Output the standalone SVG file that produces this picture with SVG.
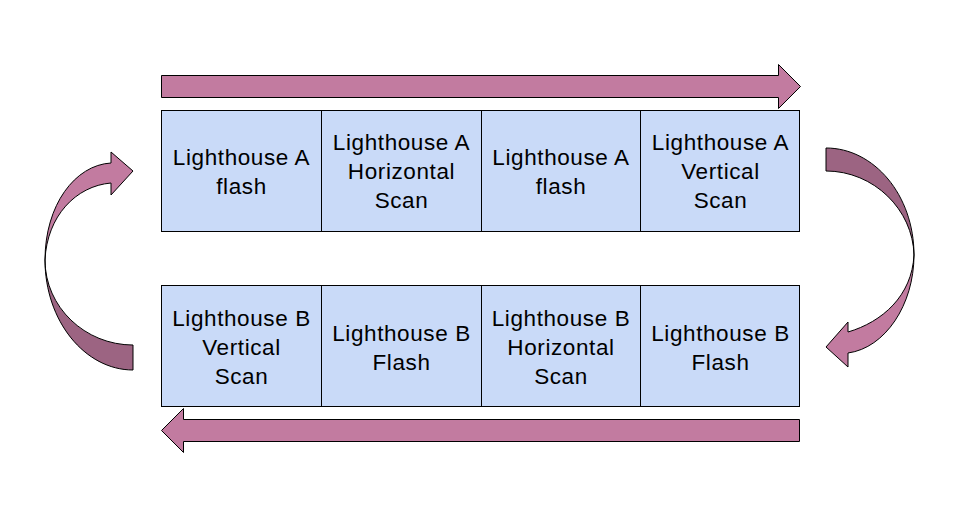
<svg xmlns="http://www.w3.org/2000/svg" width="960" height="517" viewBox="0 0 960 517">
  <style>
    .cell { fill: #c9daf8; stroke: #000; stroke-width: 1; }
    .arrow { fill: #c27ba0; stroke: #000; stroke-width: 1; stroke-linejoin: miter; }
    .shade { fill: #9c6482; stroke: #000; stroke-width: 1; }
    .lbl { font-family: "Liberation Sans", Arial, sans-serif; font-size: 22.5px; letter-spacing: 0.6px; fill: #000; text-anchor: middle; }
  </style>
  <rect width="960" height="517" fill="#fff"/>

  <!-- connectors: straight and curved flow arrows -->
  <g id="connectors">
    <path class="arrow" d="M161.5,75.5 L778.5,75.5 L778.5,64.5 L800.5,86.5 L778.5,108.5 L778.5,97.5 L161.5,97.5 Z"/>
    <path class="arrow" d="M799.5,419.5 L183.5,419.5 L183.5,408.5 L161.5,430.5 L183.5,452.5 L183.5,441.5 L799.5,441.5 Z"/>
    <!-- left curved arrow: back (shaded) half, then front half with head -->
    <path class="shade" d="M45,260 C45,321 85,370 133,370 L133,345 C85,345 45,307 45,260 Z"/>
    <path class="arrow" d="M45,260 C45,205 75,165 111,163 L111,152 L133,171 L111,195 L111,183 C76,186 47,216 45,260 Z"/>
    <!-- right curved arrow: back (shaded) half, then front half with head -->
    <path class="shade" d="M826,148 C874,148 914,195 914,255 C913,210 874,171 826,171 Z"/>
    <path class="arrow" d="M914,255 C914,305 885,348 848,353 L848,367 L826,347 L848,322 L848,332 C882,322 912,296 914,255 Z"/>
  </g>

  <!-- Lighthouse A sequence -->
  <g id="a-flash-1">
    <rect class="cell" x="161.5" y="110.5" width="160" height="121"/>
    <text class="lbl" x="241.5" y="164.5">Lighthouse A</text>
    <text class="lbl" x="241.5" y="193.5">flash</text>
  </g>
  <g id="a-horizontal-scan">
    <rect class="cell" x="321.5" y="110.5" width="160" height="121"/>
    <text class="lbl" x="401.5" y="150">Lighthouse A</text>
    <text class="lbl" x="401.5" y="179">Horizontal</text>
    <text class="lbl" x="401.5" y="208">Scan</text>
  </g>
  <g id="a-flash-2">
    <rect class="cell" x="481.5" y="110.5" width="159" height="121"/>
    <text class="lbl" x="561" y="164.5">Lighthouse A</text>
    <text class="lbl" x="561" y="193.5">flash</text>
  </g>
  <g id="a-vertical-scan">
    <rect class="cell" x="640.5" y="110.5" width="159" height="121"/>
    <text class="lbl" x="720.5" y="150">Lighthouse A</text>
    <text class="lbl" x="720.5" y="179">Vertical</text>
    <text class="lbl" x="720.5" y="208">Scan</text>
  </g>

  <!-- Lighthouse B sequence -->
  <g id="b-vertical-scan">
    <rect class="cell" x="161.5" y="285.5" width="160" height="121"/>
    <text class="lbl" x="241.5" y="326">Lighthouse B</text>
    <text class="lbl" x="241.5" y="355">Vertical</text>
    <text class="lbl" x="241.5" y="384">Scan</text>
  </g>
  <g id="b-flash-1">
    <rect class="cell" x="321.5" y="285.5" width="160" height="121"/>
    <text class="lbl" x="401.5" y="340.5">Lighthouse B</text>
    <text class="lbl" x="401.5" y="369.5">Flash</text>
  </g>
  <g id="b-horizontal-scan">
    <rect class="cell" x="481.5" y="285.5" width="159" height="121"/>
    <text class="lbl" x="561" y="326">Lighthouse B</text>
    <text class="lbl" x="561" y="355">Horizontal</text>
    <text class="lbl" x="561" y="384">Scan</text>
  </g>
  <g id="b-flash-2">
    <rect class="cell" x="640.5" y="285.5" width="159" height="121"/>
    <text class="lbl" x="720.5" y="340.5">Lighthouse B</text>
    <text class="lbl" x="720.5" y="369.5">Flash</text>
  </g>
</svg>
